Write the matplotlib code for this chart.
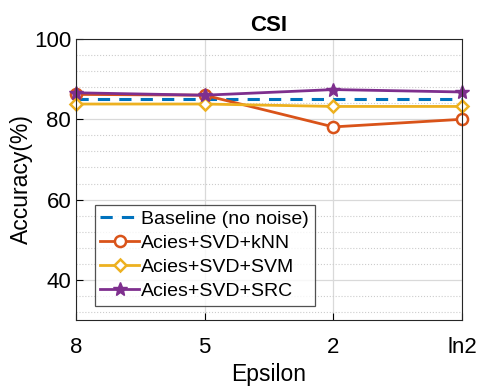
import matplotlib.pyplot as plt
from matplotlib.ticker import MultipleLocator

plt.rcParams['font.family'] = ['Liberation Sans', 'DejaVu Sans']

epsilon_labels = ['8', '5', '2', 'ln2']
baseline = [85.0, 85.0, 85.0, 85.0]
acies_knn = [86.2, 86.0, 78.1, 80.0]
acies_svm = [83.8, 83.8, 83.2, 83.2]
acies_src = [86.6, 86.0, 87.4, 86.8]


def main():
    fig = plt.figure(figsize=(4.79, 3.87), dpi=100)
    ax = fig.add_axes([76 / 479, 67 / 387, 386 / 479, 281 / 387])
    x = list(range(len(epsilon_labels)))

    ax.plot(x, baseline, '--', color='#0072BD', lw=2.2, dashes=(4, 3),
            label='Baseline (no noise)', clip_on=False)
    ax.plot(x, acies_knn, '-o', color='#D95319', lw=2, ms=8, mfc='white',
            mew=1.8, label='Acies+SVD+kNN', clip_on=False)
    ax.plot(x, acies_svm, '-D', color='#EDB120', lw=2, ms=6.5, mfc='white',
            mew=1.8, label='Acies+SVD+SVM', clip_on=False)
    ax.plot(x, acies_src, '-*', color='#7E2F8E', lw=2, ms=10,
            label='Acies+SVD+SRC', clip_on=False)

    ax.set_xlim(0, 3)
    ax.set_ylim(30, 100)
    ax.set_xticks(x)
    ax.set_xticklabels(epsilon_labels)
    ax.set_yticks([40, 60, 80, 100])
    ax.yaxis.set_minor_locator(MultipleLocator(4))
    ax.grid(True, which='major', color='#d9d9d9', lw=0.9)
    ax.grid(True, which='minor', axis='y', color='#cccccc', ls=':', lw=0.8)
    ax.tick_params(which='both', direction='in', labelsize=16, length=5)
    ax.tick_params(which='minor', length=0)
    ax.tick_params(axis='x', pad=12)
    for s in ax.spines.values():
        s.set_color('#262626')

    ax.set_title('CSI', fontsize=16, fontweight='bold', pad=6)
    ax.set_xlabel('Epsilon', fontsize=16.5, labelpad=4)
    ax.set_ylabel('Accuracy(%)', fontsize=16.5, labelpad=1)

    leg = ax.legend(loc='upper left', bbox_to_anchor=(0.048, 0.41),
                    fontsize=14, fancybox=False, edgecolor='#262626',
                    borderpad=0.3, labelspacing=0.32, handlelength=2.0,
                    handletextpad=0.1, borderaxespad=0)
    leg.get_frame().set_linewidth(0.9)

    fig.savefig('out.png', dpi=100)


if __name__ == '__main__':
    main()
